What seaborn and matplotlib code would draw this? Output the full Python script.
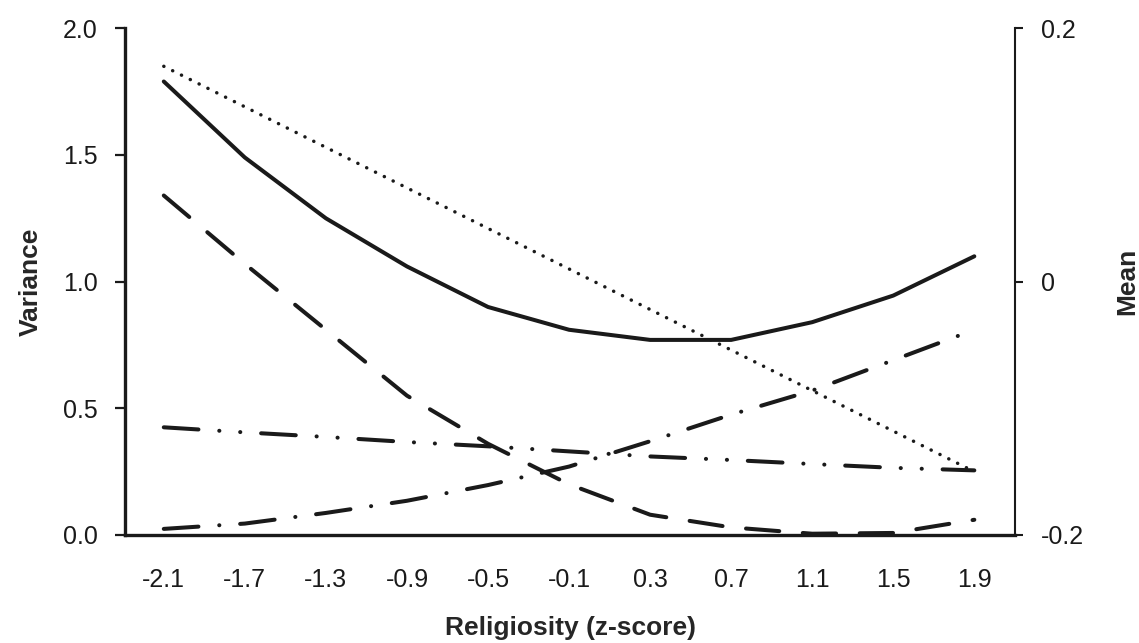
import matplotlib
matplotlib.use("Agg")
import matplotlib.pyplot as plt
import seaborn as sns
import pandas as pd

sns.set_theme(style="white")
plt.rcParams["font.family"] = ["Liberation Sans", "DejaVu Sans"]
plt.rcParams["lines.scale_dashes"] = False

# Religiosity z-score grid
religiosity = [-2.1, -1.7, -1.3, -0.9, -0.5, -0.1, 0.3, 0.7, 1.1, 1.5, 1.9]
x_tick_labels = ["-2.1", "-1.7", "-1.3", "-0.9", "-0.5", "-0.1", "0.3", "0.7", "1.1", "1.5", "1.9"]

# Variance components (left axis)
var_total = [1.79, 1.49, 1.25, 1.06, 0.90, 0.81, 0.77, 0.77, 0.84, 0.945, 1.10]
var_long_dash = [1.34, 1.07, 0.81, 0.55, 0.36, 0.20, 0.08, 0.03, 0.005, 0.008, 0.06]
var_dash_dot_dot = [0.425, 0.405, 0.387, 0.367, 0.35, 0.33, 0.31, 0.296, 0.28, 0.265, 0.255]
var_dash_dot = [0.024, 0.045, 0.087, 0.135, 0.197, 0.27, 0.37, 0.475, 0.57, 0.69, 0.81]

# Mean (right axis)
mean_values = [0.170, 0.138, 0.106, 0.074, 0.042, 0.010, -0.022, -0.054, -0.086, -0.118, -0.150]

ink = "#1a1a1a"
fig = plt.figure(figsize=(11.39, 6.43), dpi=100)
ax = fig.add_axes([0.110, 0.168, 0.781, 0.788])
ax2 = ax.twinx()

lw = 2.9
styles = [
    (var_total, "-"),
    (var_long_dash, (0, (24, 17))),
    (var_dash_dot_dot, (0, (25, 15, 0.1, 15, 0.1, 15))),
    (var_dash_dot, (0, (25, 15, 0.1, 15))),
]
for values, ls in styles:
    df = pd.DataFrame({"religiosity": religiosity, "value": values})
    sns.lineplot(data=df, x="religiosity", y="value", ax=ax, color=ink,
                 linewidth=lw, linestyle=ls, dash_capstyle="round",
                 solid_capstyle="round", solid_joinstyle="round")

df_mean = pd.DataFrame({"religiosity": religiosity, "mean": mean_values})
sns.lineplot(data=df_mean, x="religiosity", y="mean", ax=ax2, color=ink,
             linewidth=2.5, linestyle=(0, (0.1, 7)), dash_capstyle="round")

ax.set_xlim(-2.29, 2.10)
ax.set_ylim(0, 2.0)
ax2.set_ylim(-0.2, 0.2)

ax.set_xticks(religiosity)
ax.set_xticklabels(x_tick_labels)
ax.set_yticks([0, 0.5, 1.0, 1.5, 2.0])
ax.set_yticklabels(["0.0", "0.5", "1.0", "1.5", "2.0"])
ax2.set_yticks([-0.2, 0, 0.2])
ax2.set_yticklabels(["-0.2", "0", "0.2"])

for a in (ax, ax2):
    a.spines["top"].set_visible(False)
    for sp in a.spines.values():
        sp.set_color(ink)
ax.spines["left"].set_linewidth(2.4)
ax.spines["bottom"].set_linewidth(2.4)
ax.spines["right"].set_visible(False)
ax2.spines["left"].set_visible(False)
ax2.spines["bottom"].set_visible(False)
ax2.spines["right"].set_linewidth(1.5)

ax.tick_params(axis="x", length=0, pad=24, labelsize=18, colors=ink)
ax.tick_params(axis="y", direction="out", length=7, width=1.6, pad=13,
               labelsize=18, colors=ink, left=True)
ax2.tick_params(axis="y", direction="out", length=6, width=1.5, pad=13,
                labelsize=18, colors=ink, right=True)

ax.set_xlabel("Religiosity (z-score)", fontsize=19, fontweight="bold", labelpad=17)
ax.set_ylabel("Variance", fontsize=19, fontweight="bold", labelpad=14)
ax2.set_ylabel("Mean", fontsize=19, fontweight="bold", labelpad=22)

fig.savefig("out.png", dpi=100, facecolor="white")
